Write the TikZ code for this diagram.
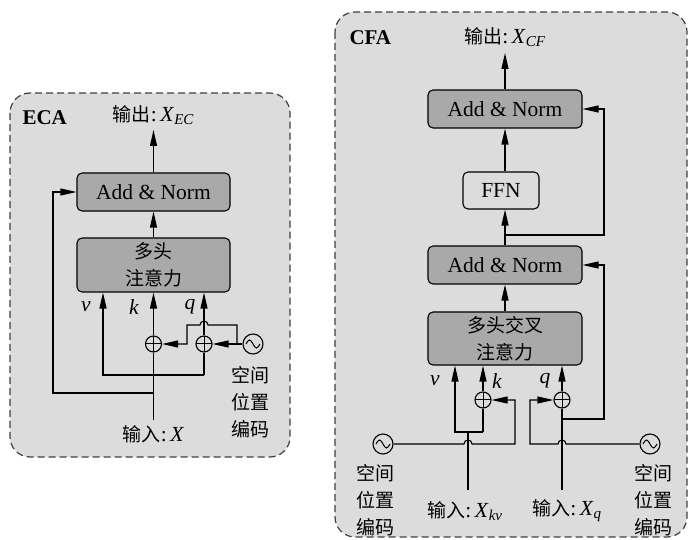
\documentclass[tikz,border=0pt]{standalone}
\usepackage{fontspec}
\setmainfont{Liberation Serif}
\newfontfamily\cjk{Noto Sans CJK SC}
\usetikzlibrary{arrows.meta}
\definecolor{panelgray}{HTML}{DCDCDC}
\definecolor{boxgray}{HTML}{A9A9A9}
\begin{document}
\begin{tikzpicture}[x=1pt,y=-1pt, line width=1.1pt,
  font=\fontsize{21.5}{27}\selectfont,
  cjkfont/.style={font=\cjk\fontsize{19}{27}\selectfont},
  itfont/.style={font=\itshape\fontsize{21.5}{27}\selectfont},
  panel/.style={draw=black!75, dash pattern=on 7pt off 4pt, fill=panelgray, rounded corners=20pt, line width=1.2pt},
  blk/.style={draw, fill=boxgray, rounded corners=5pt, minimum width=153pt, minimum height=38pt, inner sep=0pt, align=center},
  ffnbox/.style={draw, fill=panelgray, rounded corners=5pt, minimum width=76pt, minimum height=37pt, inner sep=0pt},
  adder/.style={circle, draw, minimum size=16pt, inner sep=0pt,
    path picture={\draw[line width=1pt] (path picture bounding box.north) -- (path picture bounding box.south)
      (path picture bounding box.west) -- (path picture bounding box.east);}},
  src/.style={circle, draw, minimum size=20pt, inner sep=0pt,
    path picture={\draw[line width=1pt, shift={(path picture bounding box.center)}]
      (-7pt,0pt) sin (-3.5pt,4pt) cos (0pt,0pt) sin (3.5pt,-4pt) cos (7pt,0pt);}},
  arr/.style={-{Triangle[length=16pt,width=7pt]}},
  lbl/.style={inner sep=0pt}
]
\useasboundingbox (0,0) rectangle (689,540);

% panels
\path[panel] (10,93) rectangle (290,457);
\path[panel] (335,12) rectangle (687,537);

% ================= ECA =================
\node[lbl, anchor=west, font=\bfseries\fontsize{21}{27}\selectfont] (eca) at (22,118) {ECA};
\node[lbl] (out1) at (153.5,115) {{\cjk\fontsize{19}{27}\selectfont 输出}:\,\textit{X}\textsubscript{\textit{EC}}};
\coordinate (o1) at (153.5,130);
\node[blk] (an1) at (153.5,192) {Add \& Norm};
\node[blk, minimum height=54pt, cjkfont] (mh1) at (153.5,265) {多头\\注意力};
\node[adder] (add1) at (153.5,344) {};
\node[adder] (add2) at (204,344) {};
\node[src] (src1) at (253,344) {};
\node[lbl, itfont] (v1) at (86,307) {v};
\node[lbl, itfont] (k1) at (134,307) {k};
\node[lbl, itfont] (q1) at (190,307) {q};
\node[lbl] (in1) at (153.5,434) {{\cjk\fontsize{19}{27}\selectfont 输入}:\,\textit{X}};
\node[lbl, cjkfont, align=center] (pos1) at (250,402) {空间\\位置\\编码};
\coordinate (in1top) at (153.5,420);
\coordinate (vb1) at (103,375);
\coordinate (fb1) at (53,393);
\coordinate (br1) at (237,344);

\draw[arr] (an1.north) -- (o1);
\draw[arr] (mh1.north) -- (an1.south);
\draw (in1top) -- (add1.south);
\draw[arr] (add1.north) -- (add1.north |- mh1.south);
\draw (add2.south) -- (add2.south |- vb1);
\draw[arr] (add2.south |- vb1) -- (vb1) -- (vb1 |- mh1.south);
\draw[arr] (add2.north) -- (add2.north |- mh1.south);
\draw[arr] (in1top |- fb1) -- (fb1) |- (an1.west);
\draw[arr] (src1.west) -- (add2.east);
\draw[arr] (br1) -- (237,325) -- (208,325) arc[start angle=0, end angle=180, radius=4pt]
  -- (187,325) -- (187,344) -- (add1.east);

% ================= CFA =================
\node[lbl, anchor=west, font=\bfseries\fontsize{21}{27}\selectfont] (cfa) at (349,38) {CFA};
\node[lbl] (out2) at (505,37) {{\cjk\fontsize{19}{27}\selectfont 输出}:\,\textit{X}\textsubscript{\textit{CF}}};
\coordinate (o2) at (505,53);
\node[blk, minimum width=154pt] (an2) at (505,109) {Add \& Norm};
\node[ffnbox] (ffn) at (501,190.5) {FFN};
\node[blk, minimum width=154pt] (an3) at (505,265) {Add \& Norm};
\node[blk, minimum width=154pt, minimum height=53pt, cjkfont] (mh2) at (505,338.5) {多头交叉\\注意力};
\node[adder] (add3) at (483,400) {};
\node[adder] (add4) at (562,400) {};
\node[src] (src2) at (383,444) {};
\node[src] (src3) at (650,444) {};
\node[lbl, itfont] (v2) at (435,381) {v};
\node[lbl, itfont] (k2) at (497,381) {k};
\node[lbl, itfont] (q2) at (545,381) {q};
\node[lbl] (in2) at (465,511) {{\cjk\fontsize{19}{27}\selectfont 输入}:\,\textit{X}\textsubscript{\textit{kv}}};
\node[lbl] (in3) at (567,511) {{\cjk\fontsize{19}{27}\selectfont 输入}:\,\textit{X}\textsubscript{\textit{q}}};
\node[lbl, cjkfont, align=center] (pos2) at (375,500) {空间\\位置\\编码};
\node[lbl, cjkfont, align=center] (pos3) at (653,500) {空间\\位置\\编码};
\coordinate (j2) at (505,235);
\coordinate (vb2) at (455,432);
\coordinate (in2top) at (468,490);
\coordinate (in3top) at (562,490);
\coordinate (fb3) at (562,419);

\draw[arr] (an2.north) -- (o2);
\draw[arr] (an2.south |- ffn.north) -- (an2.south);
\draw[arr] (an3.north) -- (an3.north |- ffn.south);
\draw[arr] (j2) -- (604,235) |- (an2.east);
\draw[arr] (mh2.north) -- (an3.south);
\draw[arr] (add3.north) -- (add3.north |- mh2.south);
\draw (add3.south) -- (add3.south |- vb2);
\draw[arr] (add3.south |- vb2) -- (vb2) -- (vb2 |- mh2.south);
\draw (in2top) -- (in2top |- vb2);
\draw[arr] (src2.east) -- (464,444) arc[start angle=180, end angle=0, radius=4pt]
  -- (515,444) -- (515,400) -- (add3.east);
\draw (in3top) -- (add4.south);
\draw[arr] (add4.north) -- (add4.north |- mh2.south);
\draw[arr] (src3.west) -- (566,444) arc[start angle=0, end angle=180, radius=4pt]
  -- (530,444) -- (530,400) -- (add4.west);
\draw[arr] (fb3) -- (604,419) |- (an3.east);
\end{tikzpicture}
\end{document}
